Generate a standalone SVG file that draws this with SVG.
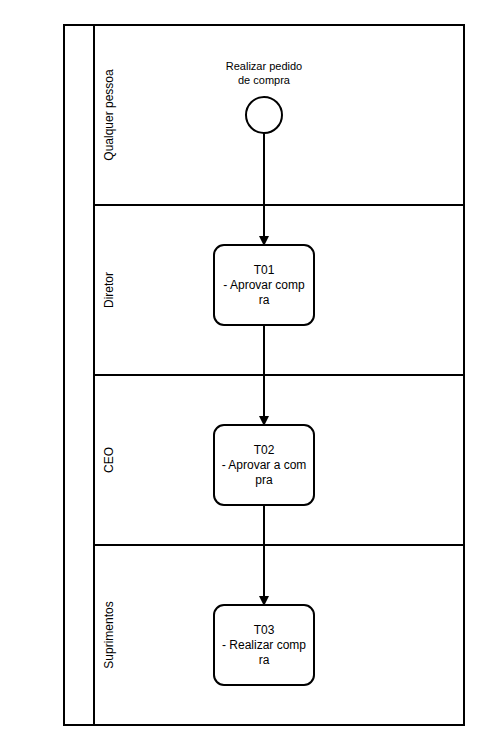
<svg xmlns="http://www.w3.org/2000/svg" width="501" height="750" viewBox="0 0 501 750">
<style>
.ln{fill:none;stroke:#000;stroke-width:2}
.box{fill:#fff;stroke:#000;stroke-width:2}
text{font-family:"Liberation Sans",Arial,sans-serif;fill:#000}
.t12{font-size:12px;text-anchor:middle}
.t11{font-size:11px;text-anchor:middle}
</style>
<defs>
<marker id="arr" viewBox="0 0 10 10" refX="9" refY="5" markerWidth="5" markerHeight="5" markerUnits="strokeWidth" orient="auto">
<path d="M0,0 L10,5 L0,10 Z" fill="#000"/>
</marker>
</defs>
<rect width="501" height="750" fill="#fff"/>
<g id="pool">
<rect class="ln" x="64" y="25" width="400" height="700"/>
<line class="ln" x1="94" y1="25" x2="94" y2="725"/>
</g>
<g id="lane-qualquer">
<text class="t12" transform="translate(113,115) rotate(-90)">Qualquer pessoa</text>
</g>
<g id="lane-diretor">
<line class="ln" x1="94" y1="205" x2="464" y2="205"/>
<text class="t12" transform="translate(113,290) rotate(-90)">Diretor</text>
</g>
<g id="lane-ceo">
<line class="ln" x1="94" y1="375" x2="464" y2="375"/>
<text class="t12" transform="translate(113,460) rotate(-90)">CEO</text>
</g>
<g id="lane-suprimentos">
<line class="ln" x1="94" y1="545" x2="464" y2="545"/>
<text class="t12" transform="translate(113,635) rotate(-90)">Suprimentos</text>
</g>
<g id="connectors">
<line class="ln" x1="264" y1="133" x2="264" y2="245" marker-end="url(#arr)"/>
<line class="ln" x1="264" y1="325" x2="264" y2="425" marker-end="url(#arr)"/>
<line class="ln" x1="264" y1="505" x2="264" y2="605" marker-end="url(#arr)"/>
</g>
<g id="start">
<circle class="box" cx="264" cy="115" r="18"/>
<text class="t11" x="264" y="70">Realizar pedido</text>
<text class="t11" x="264" y="84">de compra</text>
</g>
<g id="T01">
<rect class="box" x="214" y="245" width="100" height="80" rx="10"/>
<text class="t12" x="264" y="274">T01</text>
<text class="t12" x="264" y="289">- Aprovar comp</text>
<text class="t12" x="264" y="304">ra</text>
</g>
<g id="T02">
<rect class="box" x="214" y="425" width="100" height="80" rx="10"/>
<text class="t12" x="264" y="454">T02</text>
<text class="t12" x="264" y="469">- Aprovar a com</text>
<text class="t12" x="264" y="484">pra</text>
</g>
<g id="T03">
<rect class="box" x="214" y="605" width="100" height="80" rx="10"/>
<text class="t12" x="264" y="634">T03</text>
<text class="t12" x="264" y="649">- Realizar comp</text>
<text class="t12" x="264" y="664">ra</text>
</g>
</svg>
